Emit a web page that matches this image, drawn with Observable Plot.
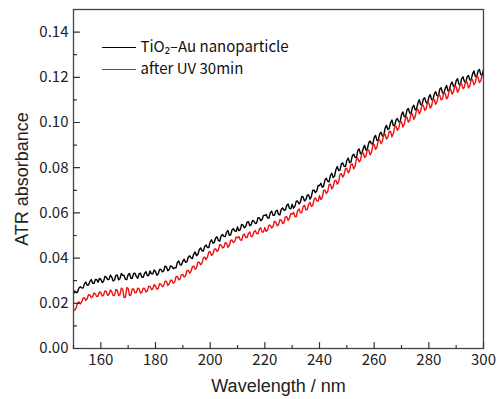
<!DOCTYPE html>
<html>
<head>
<meta charset="utf-8">
<script src="https://cdn.jsdelivr.net/npm/d3@7"></script>
<script src="https://cdn.jsdelivr.net/npm/@observablehq/plot@0.6"></script>
<style>
  html, body { margin: 0; padding: 0; background: #fff; }
</style>
</head>
<body>
<div id="chart"></div>
<script>
// Wavelength grid (nm): whole-nm samples 150..300 and half-nm samples 150.5..299.5
const wavelengthStart = 150;

// TiO2-Au nanoparticle (black), ATR absorbance at 150, 151, ..., 300 nm
const blackWhole = [
  0.0243, 0.0247, 0.0268, 0.0268, 0.0286, 0.0280, 0.0296, 0.0289, 0.0305, 0.0293, 0.0306,
  0.0297, 0.0316, 0.0306, 0.0316, 0.0303, 0.0325, 0.0309, 0.0324, 0.0306, 0.0327,
  0.0311, 0.0332, 0.0318, 0.0331, 0.0315, 0.0332, 0.0323, 0.0343, 0.0330, 0.0341,
  0.0330, 0.0350, 0.0343, 0.0361, 0.0349, 0.0363, 0.0357, 0.0381, 0.0370, 0.0386,
  0.0381, 0.0405, 0.0401, 0.0418, 0.0410, 0.0437, 0.0433, 0.0451, 0.0447, 0.0472,
  0.0466, 0.0489, 0.0478, 0.0498, 0.0496, 0.0515, 0.0501, 0.0525, 0.0521, 0.0538,
  0.0526, 0.0546, 0.0540, 0.0561, 0.0548, 0.0564, 0.0555, 0.0578, 0.0571, 0.0589,
  0.0577, 0.0600, 0.0589, 0.0607, 0.0594, 0.0615, 0.0612, 0.0633, 0.0620, 0.0638,
  0.0629, 0.0653, 0.0647, 0.0671, 0.0658, 0.0680, 0.0671, 0.0701, 0.0697, 0.0721,
  0.0713, 0.0746, 0.0740, 0.0766, 0.0757, 0.0791, 0.0787, 0.0817, 0.0806, 0.0832,
  0.0823, 0.0852, 0.0846, 0.0876, 0.0862, 0.0885, 0.0878, 0.0910, 0.0906, 0.0933,
  0.0921, 0.0949, 0.0940, 0.0975, 0.0969, 0.0999, 0.0986, 0.1011, 0.1003, 0.1034,
  0.1026, 0.1055, 0.1042, 0.1067, 0.1056, 0.1086, 0.1079, 0.1104, 0.1089, 0.1112,
  0.1101, 0.1127, 0.1120, 0.1147, 0.1131, 0.1151, 0.1140, 0.1169, 0.1161, 0.1184,
  0.1169, 0.1194, 0.1182, 0.1202, 0.1188, 0.1215, 0.1204, 0.1228, 0.1212, 0.1234
];
// TiO2-Au nanoparticle (black) at 150.5, 151.5, ..., 299.5 nm
const blackHalf = [
  0.0254, 0.0250, 0.0273, 0.0267, 0.0294, 0.0281, 0.0305, 0.0288, 0.0305, 0.0310,
  0.0292, 0.0319, 0.0305, 0.0325, 0.0299, 0.0323, 0.0304, 0.0332, 0.0323, 0.0305,
  0.0332, 0.0311, 0.0333, 0.0311, 0.0333, 0.0315, 0.0340, 0.0323, 0.0330, 0.0347,
  0.0324, 0.0350, 0.0339, 0.0365, 0.0344, 0.0365, 0.0353, 0.0357, 0.0387, 0.0369,
  0.0395, 0.0383, 0.0410, 0.0398, 0.0427, 0.0416, 0.0445, 0.0431, 0.0458, 0.0447,
  0.0481, 0.0469, 0.0494, 0.0475, 0.0505, 0.0495, 0.0522, 0.0503, 0.0530, 0.0518,
  0.0521, 0.0549, 0.0534, 0.0559, 0.0543, 0.0566, 0.0553, 0.0579, 0.0565, 0.0589,
  0.0593, 0.0577, 0.0608, 0.0589, 0.0612, 0.0591, 0.0622, 0.0613, 0.0639, 0.0618,
  0.0621, 0.0652, 0.0640, 0.0673, 0.0653, 0.0678, 0.0661, 0.0699, 0.0690, 0.0721,
  0.0731, 0.0718, 0.0753, 0.0738, 0.0775, 0.0763, 0.0805, 0.0789, 0.0821, 0.0805,
  0.0843, 0.0825, 0.0860, 0.0845, 0.0883, 0.0864, 0.0899, 0.0882, 0.0918, 0.0905,
  0.0943, 0.0921, 0.0957, 0.0941, 0.0987, 0.0973, 0.1011, 0.0986, 0.1018, 0.1003,
  0.1047, 0.1026, 0.1062, 0.1039, 0.1076, 0.1059, 0.1101, 0.1078, 0.1109, 0.1084,
  0.1123, 0.1100, 0.1136, 0.1117, 0.1154, 0.1128, 0.1164, 0.1143, 0.1179, 0.1157,
  0.1194, 0.1167, 0.1202, 0.1176, 0.1208, 0.1190, 0.1228, 0.1202, 0.1235, 0.1210
];

// after UV 30min (red), ATR absorbance at 150, 151, ..., 300 nm
const redWhole = [
  0.0170, 0.0181, 0.0206, 0.0206, 0.0225, 0.0220, 0.0237, 0.0229, 0.0241, 0.0232, 0.0248,
  0.0237, 0.0252, 0.0240, 0.0251, 0.0235, 0.0258, 0.0239, 0.0262, 0.0227, 0.0266,
  0.0237, 0.0263, 0.0248, 0.0264, 0.0249, 0.0266, 0.0255, 0.0275, 0.0263, 0.0277,
  0.0266, 0.0285, 0.0278, 0.0297, 0.0285, 0.0302, 0.0294, 0.0319, 0.0308, 0.0327,
  0.0322, 0.0346, 0.0342, 0.0365, 0.0357, 0.0382, 0.0377, 0.0405, 0.0405, 0.0428,
  0.0418, 0.0441, 0.0436, 0.0458, 0.0448, 0.0466, 0.0456, 0.0480, 0.0474, 0.0490,
  0.0481, 0.0501, 0.0491, 0.0509, 0.0495, 0.0516, 0.0509, 0.0530, 0.0515, 0.0535,
  0.0524, 0.0545, 0.0540, 0.0560, 0.0547, 0.0568, 0.0556, 0.0583, 0.0576, 0.0595,
  0.0584, 0.0610, 0.0602, 0.0627, 0.0614, 0.0636, 0.0629, 0.0659, 0.0653, 0.0676,
  0.0667, 0.0701, 0.0695, 0.0727, 0.0716, 0.0744, 0.0736, 0.0774, 0.0769, 0.0797,
  0.0787, 0.0817, 0.0806, 0.0842, 0.0833, 0.0865, 0.0852, 0.0878, 0.0867, 0.0903,
  0.0891, 0.0923, 0.0917, 0.0949, 0.0935, 0.0960, 0.0950, 0.0983, 0.0975, 0.1002,
  0.0991, 0.1023, 0.1009, 0.1037, 0.1026, 0.1058, 0.1049, 0.1075, 0.1060, 0.1086,
  0.1073, 0.1102, 0.1093, 0.1121, 0.1105, 0.1128, 0.1114, 0.1146, 0.1135, 0.1158,
  0.1143, 0.1171, 0.1156, 0.1179, 0.1162, 0.1189, 0.1177, 0.1200, 0.1184, 0.1205
];
// after UV 30min (red) at 150.5, 151.5, ..., 299.5 nm
const redHalf = [
  0.0170, 0.0202, 0.0197, 0.0223, 0.0213, 0.0238, 0.0225, 0.0246, 0.0230, 0.0250,
  0.0232, 0.0255, 0.0234, 0.0259, 0.0234, 0.0261, 0.0234, 0.0267, 0.0225, 0.0269,
  0.0234, 0.0264, 0.0246, 0.0267, 0.0245, 0.0267, 0.0250, 0.0275, 0.0261, 0.0282,
  0.0262, 0.0287, 0.0273, 0.0298, 0.0279, 0.0302, 0.0289, 0.0318, 0.0304, 0.0327,
  0.0316, 0.0344, 0.0333, 0.0362, 0.0351, 0.0382, 0.0371, 0.0401, 0.0393, 0.0426,
  0.0412, 0.0439, 0.0429, 0.0459, 0.0445, 0.0468, 0.0448, 0.0478, 0.0468, 0.0493,
  0.0496, 0.0479, 0.0507, 0.0491, 0.0515, 0.0496, 0.0522, 0.0508, 0.0534, 0.0515,
  0.0518, 0.0546, 0.0533, 0.0563, 0.0543, 0.0570, 0.0553, 0.0582, 0.0567, 0.0596,
  0.0602, 0.0584, 0.0617, 0.0601, 0.0634, 0.0615, 0.0647, 0.0632, 0.0667, 0.0651,
  0.0659, 0.0699, 0.0686, 0.0725, 0.0706, 0.0742, 0.0727, 0.0771, 0.0758, 0.0796,
  0.0777, 0.0815, 0.0795, 0.0838, 0.0826, 0.0865, 0.0845, 0.0880, 0.0857, 0.0897,
  0.0881, 0.0921, 0.0907, 0.0950, 0.0927, 0.0960, 0.0937, 0.0981, 0.0966, 0.1005,
  0.0980, 0.1022, 0.1002, 0.1039, 0.1014, 0.1055, 0.1039, 0.1079, 0.1054, 0.1088,
  0.1064, 0.1102, 0.1081, 0.1122, 0.1100, 0.1135, 0.1105, 0.1144, 0.1126, 0.1164,
  0.1134, 0.1173, 0.1150, 0.1183, 0.1153, 0.1189, 0.1167, 0.1206, 0.1177, 0.1209
];

const seriesNames = ["TiO\u2082\u2013Au nanoparticle", "after UV 30min"];
const seriesColors = ["#000000", "#ee1010"];

const xTickLabels = [160, 180, 200, 220, 240, 260, 280, 300];
const xMinorTicks = [150, 170, 190, 210, 230, 250, 270, 290];
const yTickLabels = [0.00, 0.02, 0.04, 0.06, 0.08, 0.10, 0.12, 0.14];
const yMinorTicks = [0.01, 0.03, 0.05, 0.07, 0.09, 0.11, 0.13];

const xTitle = "Wavelength / nm";
const yTitle = "ATR absorbance";

// Build a tidy table from the arrays
const rows = [];
[[blackWhole, blackHalf], [redWhole, redHalf]].forEach(([whole, half], si) => {
  const pts = [];
  whole.forEach((v, i) => pts.push({wl: wavelengthStart + i, a: v, s: seriesNames[si]}));
  half.forEach((v, i) => pts.push({wl: wavelengthStart + i + 0.5, a: v, s: seriesNames[si]}));
  pts.sort((p, q) => p.wl - q.wl);
  rows.push(...pts);
});

const tickFont = "'Noto Sans CJK JP', 'Noto Sans', sans-serif";
const titleFont = "'Liberation Sans', Arial, sans-serif";
const tickShape = {draw(ctx, l) { ctx.moveTo(0, 0); ctx.lineTo(0, -l); }};

const chart = Plot.plot({
  width: 503,
  height: 399,
  marginLeft: 73,
  marginRight: 20,
  marginTop: 9,
  marginBottom: 51,
  style: {fontFamily: tickFont, fontSize: "15px", color: "#222", background: "#fff"},
  x: {domain: [150, 300]},
  y: {domain: [0, 0.15]},
  color: {domain: seriesNames, range: seriesColors},
  marks: [
    Plot.line(rows, {x: "wl", y: "a", z: "s", stroke: "s", strokeWidth: 1.4}),
    Plot.frame({stroke: "#444", strokeWidth: 1.3}),
    // inward ticks
    Plot.vector(yTickLabels, {y: d => d, frameAnchor: "left", rotate: 90, length: 6, anchor: "start", stroke: "#333", strokeWidth: 1.2, shape: tickShape}),
    Plot.vector(yMinorTicks, {y: d => d, frameAnchor: "left", rotate: 90, length: 3, anchor: "start", stroke: "#333", strokeWidth: 1.2, shape: tickShape}),
    Plot.vector(xTickLabels, {x: d => d, frameAnchor: "bottom", rotate: 0, length: 6, anchor: "start", stroke: "#333", strokeWidth: 1.2, shape: tickShape}),
    Plot.vector(xMinorTicks, {x: d => d, frameAnchor: "bottom", rotate: 0, length: 3, anchor: "start", stroke: "#333", strokeWidth: 1.2, shape: tickShape}),
    Plot.axisY({ticks: yTickLabels, tickSize: 0, tickPadding: 5, tickFormat: d3.format(".2f"), label: null, fontSize: 15, fill: "#222"}),
    Plot.axisX({ticks: xTickLabels, tickSize: 0, tickPadding: 6, tickFormat: d => String(d), label: null, fontSize: 15, fill: "#222"}),
    // axis titles
    Plot.text([xTitle], {frameAnchor: "bottom", dy: 38, lineAnchor: "middle", textAnchor: "middle", fontSize: 18, fontFamily: titleFont, fill: "#222"}),
    Plot.text([yTitle], {frameAnchor: "left", dx: -51, rotate: -90, lineAnchor: "middle", textAnchor: "middle", fontSize: 18, fontFamily: titleFont, fill: "#222"}),
    // legend
    Plot.vector(seriesNames, {filter: (d, i) => i === 0, frameAnchor: "top-left", dx: 29, dy: 38, rotate: 90, length: 33, anchor: "start", stroke: seriesColors[0], strokeWidth: 1.2, shape: tickShape}),
    Plot.vector(seriesNames, {filter: (d, i) => i === 1, frameAnchor: "top-left", dx: 29, dy: 60, rotate: 90, length: 33, anchor: "start", stroke: seriesColors[1], strokeWidth: 1.2, shape: tickShape}),
    Plot.text(seriesNames, {filter: (d, i) => i === 0, frameAnchor: "top-left", dx: 67, dy: 38, textAnchor: "start", lineAnchor: "middle", fontSize: 15, fill: "#111"}),
    Plot.text(seriesNames, {filter: (d, i) => i === 1, frameAnchor: "top-left", dx: 67, dy: 60, textAnchor: "start", lineAnchor: "middle", fontSize: 15, fill: "#111"})
  ]
});
document.getElementById("chart").appendChild(chart);
</script>
</body>
</html>
